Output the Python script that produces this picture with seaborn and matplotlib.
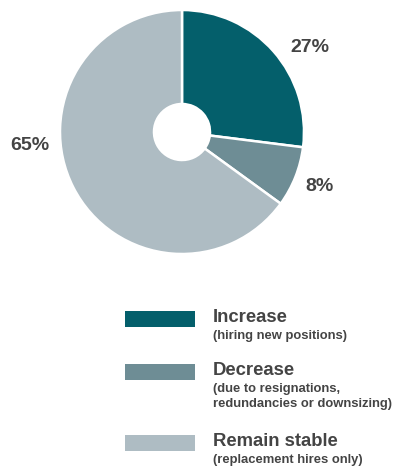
import matplotlib
matplotlib.use("Agg")
import matplotlib.pyplot as plt
import seaborn as sns
from matplotlib.patches import Rectangle

categories = ["Increase", "Decrease", "Remain stable"]
subtitles = [["(hiring new positions)"],
             ["(due to resignations,", "redundancies or downsizing)"],
             ["(replacement hires only)"]]
values = [27, 8, 65]
colors = ["#045f6b", "#6e8d95", "#aebcc3"]

sns.set_theme(style="white")
plt.rcParams['font.family'] = ['Liberation Sans', 'DejaVu Sans']
text_color = "#444444"

W, H = 396, 466
fig = plt.figure(figsize=(W / 100, H / 100), dpi=100)

# Pie axes: centre (182,132), radius 122 px
cx, cy, r = 182, 132, 122
ax = fig.add_axes([(cx - r) / W, (H - cy - r) / H, 2 * r / W, 2 * r / H])
wedges, _ = ax.pie(values, colors=colors, startangle=90, counterclock=False,
                   radius=1.0, wedgeprops=dict(width=1 - 28 / 122, edgecolor="white", linewidth=1.8))
ax.set_xlim(-1, 1)
ax.set_ylim(-1, 1)
ax.set_aspect("equal")
ax.axis("off")

# percent labels (positions in pixel layout)
label_pos = [(310, 48), (320, 186), (30, 145)]
for v, (px, py) in zip(values, label_pos):
    fig.text(px / W, 1 - py / H, f"{v}%", ha="center", va="center",
             fontsize=14, fontweight="bold", color=text_color)

# legend
lax = fig.add_axes([0, 0, 1, 1])
lax.set_xlim(0, W)
lax.set_ylim(H, 0)
lax.axis("off")
rows_y = [319, 372, 443]
for cat, sub, col, y in zip(categories, subtitles, colors, rows_y):
    lax.add_patch(Rectangle((125, y - 8), 70, 16, facecolor=col, edgecolor="none"))
    lax.text(213, y - 1.5, cat, ha="left", va="center", fontsize=13.3,
             fontweight="bold", color=text_color)
    for i, line in enumerate(sub):
        lax.text(213, y + 17 + 15.5 * i, line, ha="left", va="center", fontsize=9.4,
                 fontweight="bold", color=text_color)

fig.savefig("out.png", dpi=100, facecolor="white")
